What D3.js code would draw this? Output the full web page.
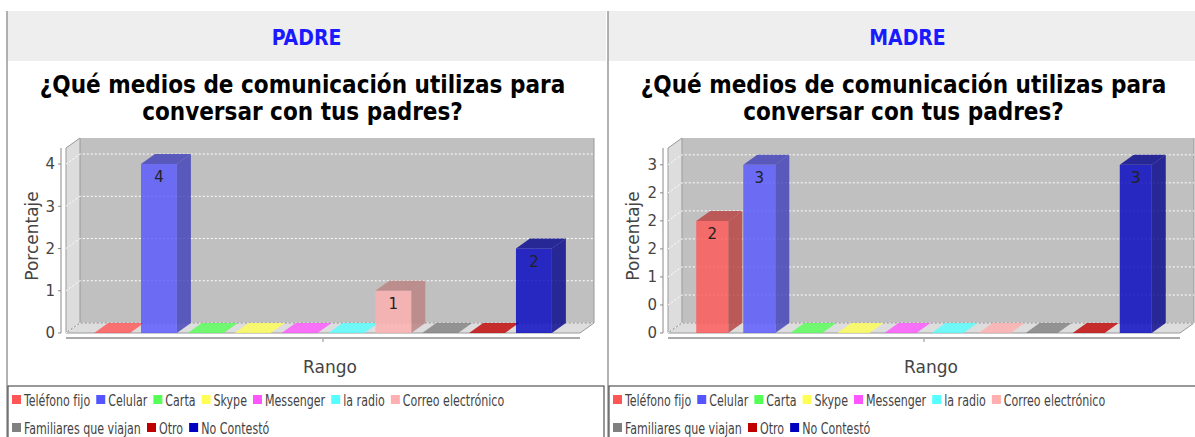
<!DOCTYPE html>
<html lang="es">
<head>
<meta charset="UTF-8">
<title>Medios de comunicación</title>
<script src="https://d3js.org/d3.v7.min.js"></script>
<style>
  body { margin: 0; background: #fff; }
  svg { display: block; }
  .hdr { font-family: "DejaVu Sans Condensed", "DejaVu Sans", sans-serif; font-weight: bold; font-size: 21px; fill: #1a1aff; }
  .title { font-family: "DejaVu Sans Condensed", "DejaVu Sans", sans-serif; font-weight: bold; font-size: 24px; fill: #000; }
  .tick-label { font-family: "DejaVu Sans", sans-serif; font-size: 15px; fill: #444; }
  .axis-label { font-family: "DejaVu Sans", sans-serif; font-size: 17px; fill: #444; }
  .legend text { font-family: "DejaVu Sans Condensed", "DejaVu Sans", sans-serif; font-size: 16px; fill: #444; }
  .val { font-family: "DejaVu Sans", sans-serif; font-size: 15px; fill: #222; }
</style>
</head>
<body>
<svg id="chart" width="1195" height="437"></svg>
<script>
const categories = ["Teléfono fijo", "Celular", "Carta", "Skype", "Messenger", "la radio",
    "Correo electrónico", "Familiares que viajan", "Otro", "No Contestó"];
const colors = ["#ff5555", "#5555ff", "#55ff55", "#ffff55", "#ff55ff", "#55ffff",
    "#ffafaf", "#808080", "#c00000", "#0000c0"];
const padreValues = [0, 4, 0, 0, 0, 0, 1, 0, 0, 2];
const madreValues = [2, 3, 0, 0, 0, 0, 0, 0, 0, 3];
const padreTicks = [0, 1, 2, 3, 4];
const padreTickLabels = ["0", "1", "2", "3", "4"];
const madreTicks = [0, 0.5, 1, 1.5, 2, 2.5, 3];
const madreTickLabels = ["0", "0", "1", "2", "2", "2", "3"];
const titleLines = ["¿Qué medios de comunicación utilizas para", "conversar con tus padres?"];

const panels = [
    { name: "PADRE", values: padreValues, ticks: padreTicks, tickLabels: padreTickLabels,
      max: 4.38, left: 7, x0: 66, x1: 580, pad: 0.234 },
    { name: "MADRE", values: madreValues, ticks: madreTicks, tickLabels: madreTickLabels,
      max: 3.3, left: 608, x0: 668, x1: 1180, pad: 0.32 }
];

const svg = d3.select("#chart");
const panelW = 599;
const yTop = 148, yBottom = 333;   // front face of the plot
const dx = 14, dy = 10;            // 3D offset
const legendSqueeze = 0.77;        // legend font is narrower than DejaVu Condensed

function drawPanel(p) {
    const g = svg.append("g");
    const cx = p.left + panelW / 2;

    // header band
    g.append("rect").attr("x", p.left).attr("y", 11).attr("width", panelW).attr("height", 50).attr("fill", "#eeeeee");
    g.append("line").attr("x1", p.left).attr("x2", p.left).attr("y1", 11).attr("y2", 437)
        .attr("stroke", "#999").attr("stroke-width", 1.5);
    g.append("text").attr("class", "hdr").attr("x", cx).attr("y", 45).attr("text-anchor", "middle").text(p.name);

    g.selectAll(".title").data(titleLines).enter().append("text")
        .attr("class", "title")
        .attr("x", cx - 4)
        .attr("y", (d, i) => 93 + i * 27)
        .attr("text-anchor", "middle")
        .text(d => d);

    const x = d3.scaleBand().domain(categories).range([p.x0, p.x1]).paddingInner(p.pad).paddingOuter(0.6);
    const y = d3.scaleLinear().domain([0, p.max]).range([yBottom, yTop]);

    // walls
    g.append("polygon")
        .attr("points", [[p.x0 + dx, yTop - dy], [p.x1 + dx, yTop - dy], [p.x1 + dx, yBottom - dy], [p.x0 + dx, yBottom - dy]].join(" "))
        .attr("fill", "#c0c0c0");
    g.append("polygon")
        .attr("points", [[p.x0, yTop], [p.x0 + dx, yTop - dy], [p.x0 + dx, yBottom - dy], [p.x0, yBottom]].join(" "))
        .attr("fill", "#dddddd").attr("stroke", "#999").attr("stroke-width", 1);
    g.append("polygon")
        .attr("points", [[p.x0, yBottom], [p.x0 + dx, yBottom - dy], [p.x1 + dx, yBottom - dy], [p.x1, yBottom]].join(" "))
        .attr("fill", "#dddddd").attr("stroke", "#999").attr("stroke-width", 1);
    g.append("line").attr("x1", p.x1 + dx).attr("x2", p.x1 + dx).attr("y1", yTop - dy).attr("y2", yBottom - dy)
        .attr("stroke", "#999");

    // gridlines
    g.selectAll(".grid").data(p.ticks).enter().append("polyline")
        .attr("points", d => [[p.x0, y(d)], [p.x0 + dx, y(d) - dy], [p.x1 + dx, y(d) - dy]].join(" "))
        .attr("fill", "none").attr("stroke", "#fff").attr("stroke-width", 1).attr("stroke-dasharray", "2,2");

    // bars
    const bars = g.selectAll(".bar").data(p.values.map((v, i) => ({ v, i, c: categories[i] })))
        .enter().append("g");
    bars.append("polygon")
        .attr("points", d => {
            const xa = x(d.c), xb = xa + x.bandwidth(), yv = y(d.v);
            return [[xa, yv], [xa + dx, yv - dy], [xb + dx, yv - dy], [xb, yv]].join(" ");
        })
        .attr("fill", d => d.v === 0 ? colors[d.i] : d3.color(colors[d.i]).darker(0.9))
        .attr("fill-opacity", 0.8);
    bars.filter(d => d.v > 0).append("polygon")
        .attr("points", d => {
            const xb = x(d.c) + x.bandwidth(), yv = y(d.v);
            return [[xb, yv], [xb + dx, yv - dy], [xb + dx, yBottom - dy], [xb, yBottom]].join(" ");
        })
        .attr("fill", d => d3.color(colors[d.i]).darker(0.9))
        .attr("fill-opacity", 0.8);
    bars.filter(d => d.v > 0).append("rect")
        .attr("x", d => x(d.c)).attr("y", d => y(d.v))
        .attr("width", x.bandwidth()).attr("height", d => yBottom - y(d.v))
        .attr("fill", d => colors[d.i]).attr("fill-opacity", 0.8);
    bars.filter(d => d.v > 0).append("text")
        .attr("class", "val")
        .attr("x", d => x(d.c) + x.bandwidth() / 2)
        .attr("y", d => y(d.v) + 18)
        .attr("text-anchor", "middle")
        .text(d => d.v);

    // value axis
    const ax = p.x0 - 5;
    g.append("line").attr("x1", ax).attr("x2", ax).attr("y1", yTop).attr("y2", yBottom).attr("stroke", "#888");
    g.selectAll(".yt").data(p.ticks).enter().append("line")
        .attr("x1", ax - 3).attr("x2", ax).attr("y1", d => y(d)).attr("y2", d => y(d)).attr("stroke", "#888");
    g.selectAll(".ytl").data(p.ticks).enter().append("text")
        .attr("class", "tick-label")
        .attr("x", ax - 6).attr("y", d => y(d)).attr("dy", "0.36em")
        .attr("text-anchor", "end")
        .text((d, i) => p.tickLabels[i]);

    // category axis
    g.append("line").attr("x1", p.x0).attr("x2", p.x1).attr("y1", 338).attr("y2", 338)
        .attr("stroke", "#aaa").attr("stroke-width", 2);
    g.append("line").attr("x1", (p.x0 + p.x1) / 2).attr("x2", (p.x0 + p.x1) / 2).attr("y1", 339).attr("y2", 342)
        .attr("stroke", "#888");

    g.append("text").attr("class", "axis-label")
        .attr("x", (p.x0 + p.x1 + dx) / 2).attr("y", 373)
        .attr("text-anchor", "middle").text("Rango");
    g.append("text").attr("class", "axis-label")
        .attr("transform", `translate(${p.left + 25},236) rotate(-90)`)
        .attr("dy", "0.36em")
        .attr("text-anchor", "middle").text("Porcentaje");

    // legend
    const lg = g.append("g").attr("class", "legend");
    lg.append("rect").attr("x", p.left + 1).attr("y", 386).attr("width", panelW - 3).attr("height", 60)
        .attr("fill", "#fff").attr("stroke", "#333").attr("stroke-width", 1);
    let lx = p.left + 5, row = 0;
    const maxX = p.left + panelW - 6;
    categories.forEach((c, i) => {
        const t = lg.append("text").text(c);
        const w = t.node().getComputedTextLength() * legendSqueeze;
        if (lx + 11 + w > maxX) { lx = p.left + 5; row += 1; }
        const yc = 400 + row * 28;
        lg.append("rect").attr("x", lx).attr("y", yc - 5).attr("width", 9).attr("height", 9).attr("fill", colors[i]);
        t.attr("transform", `translate(${lx + 12},${yc}) scale(${legendSqueeze},1)`).attr("dy", "0.36em");
        lx += 12 + w + 6;
    });
}

panels.forEach(drawPanel);
</script>
</body>
</html>
